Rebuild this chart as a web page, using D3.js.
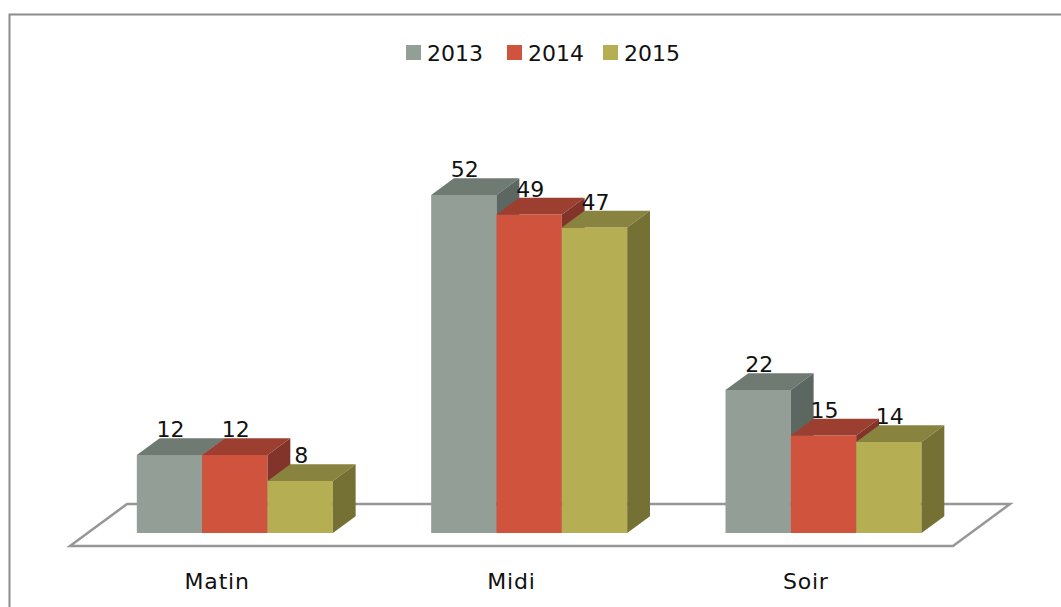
<!DOCTYPE html>
<html>
<head>
<meta charset="utf-8">
<script src="https://cdn.jsdelivr.net/npm/d3@7"></script>
<style>
  body { margin: 0; background: #fff; }
  svg text { font-family: "Century Gothic", "DejaVu Sans", sans-serif; fill: #111; }
</style>
</head>
<body>
<svg id="chart" width="1061" height="607"></svg>
<script>
// data
var categories = ['Matin', 'Midi', 'Soir'];
var seriesNames = ['2013', '2014', '2015'];
var values2013 = [12, 52, 22];
var values2014 = [12, 49, 15];
var values2015 = [8, 47, 14];
var seriesValues = [values2013, values2014, values2015];

// front, top, side shades per series
var colors = [
    { front: '#939f96', top: '#6f7a72', side: '#5d6761' },
    { front: '#d0533e', top: '#9c3f30', side: '#83342a' },
    { front: '#b5ae53', top: '#898340', side: '#757134' }
];

var svg = d3.select('#chart');

// oblique 3d: full floor depth moves (57, -42)
var floorFront = 546, depthX = 57, depthY = -42;
var zFront = 0.31, zBack = 0.71;

var x = d3.scaleBand().domain(categories).range([70, 953]);
var groupW = x.bandwidth() * 0.666;
var xInner = d3.scaleBand().domain(seriesNames).range([0, groupW]);
var y = d3.scaleLinear().domain([0, 60]).range([0, 390]);

function proj(px, v, z) {
    return [px + z * depthX, floorFront + z * depthY - y(v)];
}

// outer frame
svg.append('rect')
    .attr('x', 9.5).attr('y', 14.5)
    .attr('width', 1100).attr('height', 700)
    .attr('fill', 'none')
    .attr('stroke', '#8c8c8c')
    .attr('stroke-width', 2);

// floor
var x0 = x.range()[0], x1 = x.range()[1];
var floorPts = [proj(x0, 0, 0), proj(x1, 0, 0), proj(x1, 0, 1), proj(x0, 0, 1)];
svg.append('path')
    .attr('d', 'M' + floorPts.join('L') + 'Z')
    .attr('fill', 'none')
    .attr('stroke', '#979797')
    .attr('stroke-width', 2.5);

// bars
var bars = [];
categories.forEach(function(c, ci) {
    seriesNames.forEach(function(s, si) {
        var left = x(c) + (x.bandwidth() - groupW) / 2 + xInner(s);
        bars.push({ left: left, right: left + xInner.bandwidth(), v: seriesValues[si][ci], si: si });
    });
});

var g = svg.append('g');
bars.forEach(function(b) {
    var col = colors[b.si];
    var fbl = proj(b.left, 0, zFront), fbr = proj(b.right, 0, zFront),
        ftl = proj(b.left, b.v, zFront), ftr = proj(b.right, b.v, zFront),
        btl = proj(b.left, b.v, zBack), btr = proj(b.right, b.v, zBack),
        bbr = proj(b.right, 0, zBack);
    g.append('path').attr('d', 'M' + [fbl, fbr, ftr, ftl].join('L') + 'Z').attr('fill', col.front);
    g.append('path').attr('d', 'M' + [ftl, ftr, btr, btl].join('L') + 'Z').attr('fill', col.top);
    g.append('path').attr('d', 'M' + [fbr, bbr, btr, ftr].join('L') + 'Z').attr('fill', col.side);
});

// value labels
bars.forEach(function(b) {
    var p = proj((b.left + b.right) / 2, b.v, zBack);
    svg.append('text')
        .attr('x', p[0] - (zBack - zFront) * depthX + 1)
        .attr('y', p[1] - 1)
        .attr('text-anchor', 'middle')
        .attr('font-size', 22)
        .text(b.v);
});

// category labels
svg.selectAll('.cat').data(categories).enter().append('text')
    .attr('class', 'cat')
    .attr('x', function(d) { return x(d) + x.bandwidth() / 2; })
    .attr('y', 589)
    .attr('text-anchor', 'middle')
    .attr('font-size', 22)
    .attr('letter-spacing', 0.8)
    .text(function(d) { return d; });

// legend
var legendX = [406, 507, 603];
var legend = svg.selectAll('.leg').data(seriesNames).enter().append('g')
    .attr('class', 'leg')
    .attr('transform', function(d, i) { return 'translate(' + legendX[i] + ',45)'; });
legend.append('rect').attr('width', 15).attr('height', 15)
    .attr('fill', function(d, i) { return colors[i].front; });
legend.append('text').attr('x', 21).attr('y', 16)
    .attr('font-size', 22)
    .text(function(d) { return d; });
</script>
</body>
</html>
